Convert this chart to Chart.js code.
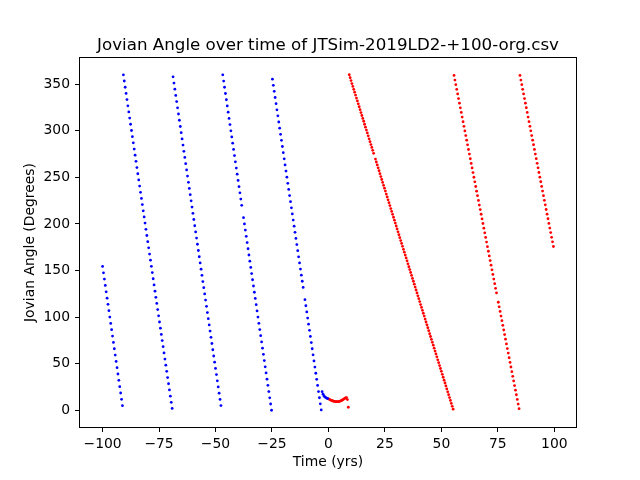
<!DOCTYPE html>
<html>
<head>
<meta charset="utf-8">
<script src="https://cdn.jsdelivr.net/npm/chart.js@4.4.0/dist/chart.umd.min.js"></script>
<style>
  html, body { margin: 0; padding: 0; background: #fff; }
  canvas { display: block; }
</style>
</head>
<body>
<canvas id="jovianChart" width="640" height="480"></canvas>
<script>
const titleText = 'Jovian Angle over time of JTSim-2019LD2-+100-org.csv';
const xLabel = 'Time (yrs)';
const yLabel = 'Jovian Angle (Degrees)';
const xTicks = [-100, -75, -50, -25, 0, 25, 50, 75, 100];
const yTicks = [0, 50, 100, 150, 200, 250, 300, 350];

// blue = before t0, red = after (time in yrs, angle in degrees)
const blueT1 = [-100.0,-99.6,-99.2,-98.8,-98.4,-98.0,-97.6,-97.2,-96.8,-96.4,-96.0,-95.6,-95.2,-94.8,-94.4,-94.0,-93.6,-93.2,-92.8,-92.4,-92.0,-91.6,-91.2];
const blueA1 = [154.4,147.6,140.8,134.0,127.2,120.4,113.7,106.9,100.1,93.3,86.5,79.7,72.9,66.1,59.3,52.5,45.8,39.0,32.2,25.4,18.6,11.8,5.0];

const blueT2 = [-90.8,-90.4,-90.0,-89.6,-89.2,-88.8,-88.4,-88.0,-87.6,-87.2,
  -86.8,-86.4,-86.0,-85.6,-85.2,-84.8,-84.4,-84.0,-83.6,-83.2,
  -82.8,-82.4,-82.0,-81.6,-81.2,-80.8,-80.4,-80.0,-79.6,-79.2,
  -78.8,-78.4,-78.0,-77.6,-77.2,-76.8,-76.4,-76.0,-75.6,-75.2,
  -74.8,-74.4,-74.0,-73.6,-73.2,-72.8,-72.4,-72.0,-71.6,-71.2,
  -70.8,-70.4,-70.0,-69.6,-69.2];
const blueA2 = [360.0,353.4,346.7,340.1,333.5,326.8,320.2,313.6,307.0,300.3,
  293.7,287.1,280.4,273.8,267.2,260.5,253.9,247.3,240.7,234.0,
  227.4,220.8,214.1,207.5,200.9,194.2,187.6,181.0,174.4,167.7,
  161.1,154.5,147.8,141.2,134.6,127.9,121.3,114.7,108.1,101.4,
  94.8,88.2,81.5,74.9,68.3,61.6,55.0,48.4,41.8,35.1,
  28.5,21.9,15.2,8.6,2.0];

const blueT3 = [-68.8,-68.4,-68.0,-67.6,-67.2,-66.8,-66.4,-66.0,-65.6,-65.2,
  -64.8,-64.4,-64.0,-63.6,-63.2,-62.8,-62.4,-62.0,-61.6,-61.2,
  -60.8,-60.4,-60.0,-59.6,-59.2,-58.8,-58.4,-58.0,-57.6,-57.2,
  -56.8,-56.4,-56.0,-55.6,-55.2,-54.8,-54.4,-54.0,-53.6,-53.2,
  -52.8,-52.4,-52.0,-51.6,-51.2,-50.8,-50.4,-50.0,-49.6,-49.2,
  -48.8,-48.4,-48.0,-47.6];
const blueA3 = [357.9,351.2,344.6,337.9,331.3,324.6,318.0,311.3,304.6,298.0,
  291.3,284.7,278.0,271.4,264.7,258.0,251.4,244.7,238.1,231.4,
  224.8,218.1,211.4,204.8,198.1,191.5,184.8,178.2,171.5,164.8,
  158.2,151.5,144.9,138.2,131.6,124.9,118.3,111.6,104.9,98.3,
  91.6,85.0,78.3,71.7,65.0,58.3,51.7,45.0,38.4,31.7,
  25.1,18.4,11.7,5.1];

const blueT4 = [-46.8,-46.4,-46.0,-45.6,-45.2,-44.8,-44.4,-44.0,-43.6,-43.2,
  -42.8,-42.4,-42.0,-41.6,-41.2,-40.8,-40.4,-40.0,-39.6,-39.2,
  -38.8,-38.4,-37.6,-37.2,-36.8,-36.4,-36.0,-35.6,-35.2,
  -34.8,-34.4,-34.0,-33.6,-33.2,-32.8,-32.4,-32.0,-31.6,-31.2,
  -30.8,-30.4,-30.0,-29.6,-29.2,-28.8,-28.4,-28.0,-27.6,-27.2,
  -26.8,-26.4,-26.0,-25.6,-25.2];
const blueA4 = [360.0,353.3,346.7,340.0,333.3,326.7,320.0,313.3,306.7,300.0,
  293.4,286.7,280.0,273.4,266.7,260.0,253.4,246.7,240.0,233.4,
  226.7,220.0,206.7,200.0,193.4,186.7,180.0,173.4,166.7,
  160.1,153.4,146.7,140.1,133.4,126.7,120.1,113.4,106.7,100.1,
  93.4,86.7,80.1,73.4,66.7,60.1,53.4,46.7,40.1,33.4,
  26.8,20.1,13.4,6.8,0.1];

const blueT5 = [-24.8,-24.4,-24.0,-23.6,-23.2,-22.8,-22.4,-22.0,-21.6,-21.2,
  -20.8,-20.4,-20.0,-19.6,-19.2,-18.8,-18.4,-18.0,-17.6,-17.2,
  -16.8,-16.4,-16.0,-15.6,-15.2,-14.8,-14.4,-14.0,-13.6,-13.2,
  -12.8,-12.4,-12.0,-11.6,-11.2,-10.4,-10.0,-9.6,-9.2,
  -8.8,-8.4,-8.0,-7.6,-7.2,-6.8,-6.4,-6.0,-5.6,-5.2,
  -4.8,-4.4,-4.0,-3.6,-3.2];
const blueA5 = [355.4,348.8,342.3,335.7,329.1,322.5,316.0,309.4,302.8,296.2,
  289.7,283.1,276.5,269.9,263.4,256.8,250.2,243.6,237.1,230.5,
  223.9,217.3,210.8,204.2,197.6,191.0,184.5,177.9,171.3,164.7,
  158.2,151.6,145.0,138.5,131.9,118.7,112.2,105.6,99.0,
  92.4,85.9,79.3,72.7,66.1,59.6,53.0,46.4,39.8,33.3,
  26.7,20.1,13.5,7.0,0.4];

const blueTC = [-2.8,-2.4,-2.0,-1.6,-1.2,-0.8,-0.4];
const blueAC = [20.0,17.3,15.5,14.4,13.7,13.1,12.7];

const redTC = [0.0,0.4,0.8,1.2,1.6,2.0,2.4,2.8,3.2,3.6,4.0,4.4,4.8,5.2,5.6,6.0,6.4,6.8,7.2,7.6,8.0,8.4,8.8];
const redAC = [12.3,11.8,11.2,10.7,10.3,10.0,9.7,9.5,9.4,9.3,9.3,9.4,9.6,9.9,10.3,10.8,11.4,12.1,12.7,13.3,13.7,11.5,3.3];

const redT1 = [9.2,9.6,10.0,10.4,10.8,11.2,11.6,12.0,12.4,12.8,
  13.2,13.6,14.0,14.4,14.8,15.2,15.6,16.0,16.4,16.8,
  17.2,17.6,18.0,18.4,18.8,19.2,19.6,20.0,20.8,
  21.2,21.6,22.0,22.4,22.8,23.2,23.6,24.0,24.4,24.8,
  25.2,25.6,26.0,26.4,26.8,27.2,27.6,28.0,28.4,28.8,
  29.2,29.6,30.0,30.4,30.8,31.2,31.6,32.0,32.4,32.8,
  33.2,33.6,34.0,34.4,34.8,35.2,35.6,36.0,36.4,36.8,
  37.2,37.6,38.0,38.4,38.8,39.2,39.6,40.0,40.4,40.8,
  41.2,41.6,42.0,42.4,42.8,43.2,43.6,44.0,44.4,44.8,
  45.2,45.6,46.0,46.4,46.8,47.2,47.6,48.0,48.4,48.8,
  49.2,49.6,50.0,50.4,50.8,51.2,51.6,52.0,52.4,52.8,
  53.2,53.6,54.0,54.4,54.8,55.2];
const redA1 = [360.1,357.0,353.9,350.7,347.6,344.5,341.4,338.3,335.1,332.0,
  328.9,325.8,322.6,319.5,316.4,313.3,310.2,307.0,303.9,300.8,
  297.7,294.6,291.4,288.3,285.2,282.1,279.0,275.8,269.6,
  266.5,263.3,260.2,257.1,254.0,250.9,247.7,244.6,241.5,238.4,
  235.3,232.1,229.0,225.9,222.8,219.7,216.5,213.4,210.3,207.2,
  204.1,200.9,197.8,194.7,191.6,188.4,185.3,182.2,179.1,176.0,
  172.8,169.7,166.6,163.5,160.4,157.2,154.1,151.0,147.9,144.8,
  141.6,138.5,135.4,132.3,129.1,126.0,122.9,119.8,116.7,113.5,
  110.4,107.3,104.2,101.1,97.9,94.8,91.7,88.6,85.5,82.3,
  79.2,76.1,73.0,69.9,66.7,63.6,60.5,57.4,54.2,51.1,
  48.0,44.9,41.8,38.6,35.5,32.4,29.3,26.2,23.0,19.9,
  16.8,13.7,10.6,7.4,4.3,1.2];

const redT2 = [55.6,56.0,56.4,56.8,57.2,57.6,58.0,58.4,58.8,59.2,
  59.6,60.0,60.4,60.8,61.2,61.6,62.0,62.4,62.8,63.2,
  63.6,64.0,64.4,64.8,65.2,65.6,66.0,66.4,66.8,67.2,
  67.6,68.0,68.4,68.8,69.2,69.6,70.0,70.4,70.8,71.2,
  71.6,72.0,72.4,72.8,73.2,73.6,74.0,74.4,75.2,
  75.6,76.0,76.4,76.8,77.2,77.6,78.0,78.4,78.8,79.2,
  79.6,80.0,80.4,80.8,81.2,81.6,82.0,82.4,82.8,83.2,
  83.6,84.0,84.4];
const redA2 = [359.4,354.4,349.5,344.5,339.5,334.6,329.6,324.6,319.7,314.7,
  309.7,304.8,299.8,294.8,289.9,284.9,279.9,275.0,270.0,265.0,
  260.1,255.1,250.1,245.2,240.2,235.2,230.3,225.3,220.3,215.4,
  210.4,205.4,200.5,195.5,190.5,185.6,180.6,175.6,170.7,165.7,
  160.7,155.8,150.8,145.8,140.9,135.9,130.9,126.0,116.0,
  111.1,106.1,101.1,96.2,91.2,86.2,81.3,76.3,71.3,66.3,
  61.4,56.4,51.4,46.5,41.5,36.5,31.6,26.6,21.6,16.7,
  11.7,6.7,1.8];

const redT3 = [84.8,85.2,85.6,86.0,86.4,86.8,87.2,87.6,88.0,88.4,
  88.8,89.2,89.6,90.0,90.4,90.8,91.2,91.6,92.0,92.4,
  92.8,93.2,93.6,94.0,94.4,94.8,95.2,95.6,96.0,96.4,
  96.8,97.2,97.6,98.0,98.4,98.8,99.2,99.6];
const redA3 = [359.4,354.4,349.5,344.5,339.6,334.6,329.6,324.7,319.7,314.7,
  309.8,304.8,299.9,294.9,289.9,285.0,280.0,275.0,270.1,265.1,
  260.2,255.2,250.2,245.3,240.3,235.3,230.4,225.4,220.5,215.5,
  210.5,205.6,200.6,195.6,190.7,185.7,180.8,175.8];

const toPoints = (times, angles) => times.map((t, i) => ({ x: t, y: angles[i] }));

const bluePoints = [].concat(
  toPoints(blueT1, blueA1), toPoints(blueT2, blueA2), toPoints(blueT3, blueA3),
  toPoints(blueT4, blueA4), toPoints(blueT5, blueA5), toPoints(blueTC, blueAC));
const redPoints = [].concat(
  toPoints(redTC, redAC), toPoints(redT1, redA1), toPoints(redT2, redA2), toPoints(redT3, redA3));

const fontFamily = "'DejaVu Sans', 'Liberation Sans', sans-serif";
const minus = v => String(v).replace('-', '\u2212');

// frame round the plot and the title centred over the axes, like matplotlib
const frameAndTitle = {
  id: 'frameAndTitle',
  afterDraw(chart) {
    const { ctx, chartArea: a } = chart;
    ctx.save();
    ctx.strokeStyle = '#000';
    ctx.lineWidth = 1;
    ctx.strokeRect(Math.round(a.left) - 0.5, Math.round(a.top) - 0.5,
      Math.round(a.right - a.left) + 1, Math.round(a.bottom - a.top) + 1);
    ctx.fillStyle = '#000';
    ctx.font = '16.7px ' + fontFamily;
    ctx.textAlign = 'center';
    ctx.textBaseline = 'alphabetic';
    ctx.fillText(titleText, (a.left + a.right) / 2, a.top - 8.5);
    ctx.restore();
  }
};

new Chart(document.getElementById('jovianChart'), {
  type: 'scatter',
  data: {
    datasets: [
      { data: bluePoints, backgroundColor: '#0000ff', borderWidth: 0, pointRadius: 1.4 },
      { data: redPoints, backgroundColor: '#ff0000', borderWidth: 0, pointRadius: 1.4 }
    ]
  },
  options: {
    responsive: false,
    animation: false,
    devicePixelRatio: 1,
    events: [],
    layout: { padding: { left: 0, right: 64, top: 58, bottom: 0 } },
    plugins: { legend: { display: false }, tooltip: { enabled: false }, title: { display: false } },
    scales: {
      x: {
        type: 'linear',
        min: -110,
        max: 109.6,
        afterFit: s => { s.height = 53; },
        afterBuildTicks: s => { s.ticks = xTicks.map(v => ({ value: v })); },
        border: { display: false },
        grid: { drawOnChartArea: false, drawTicks: true, tickLength: 5, color: '#000', lineWidth: 1 },
        ticks: { color: '#000', padding: 4, maxRotation: 0, font: { family: fontFamily, size: 13.9 }, callback: v => minus(v) },
        title: { display: true, text: xLabel, color: '#000', font: { family: fontFamily, size: 13.9 }, padding: { top: 0, bottom: 9 } }
      },
      y: {
        type: 'linear',
        min: -17.9,
        max: 378.1,
        afterFit: s => { s.width = 80; },
        afterBuildTicks: s => { s.ticks = yTicks.map(v => ({ value: v })); },
        border: { display: false },
        grid: { drawOnChartArea: false, drawTicks: true, tickLength: 5, color: '#000', lineWidth: 1 },
        ticks: { color: '#000', padding: 5, font: { family: fontFamily, size: 13.9 }, callback: v => minus(v) },
        title: { display: true, text: yLabel, color: '#000', font: { family: fontFamily, size: 13.9 }, padding: { top: 22, bottom: 0 } }
      }
    }
  },
  plugins: [frameAndTitle]
});
</script>
</body>
</html>
